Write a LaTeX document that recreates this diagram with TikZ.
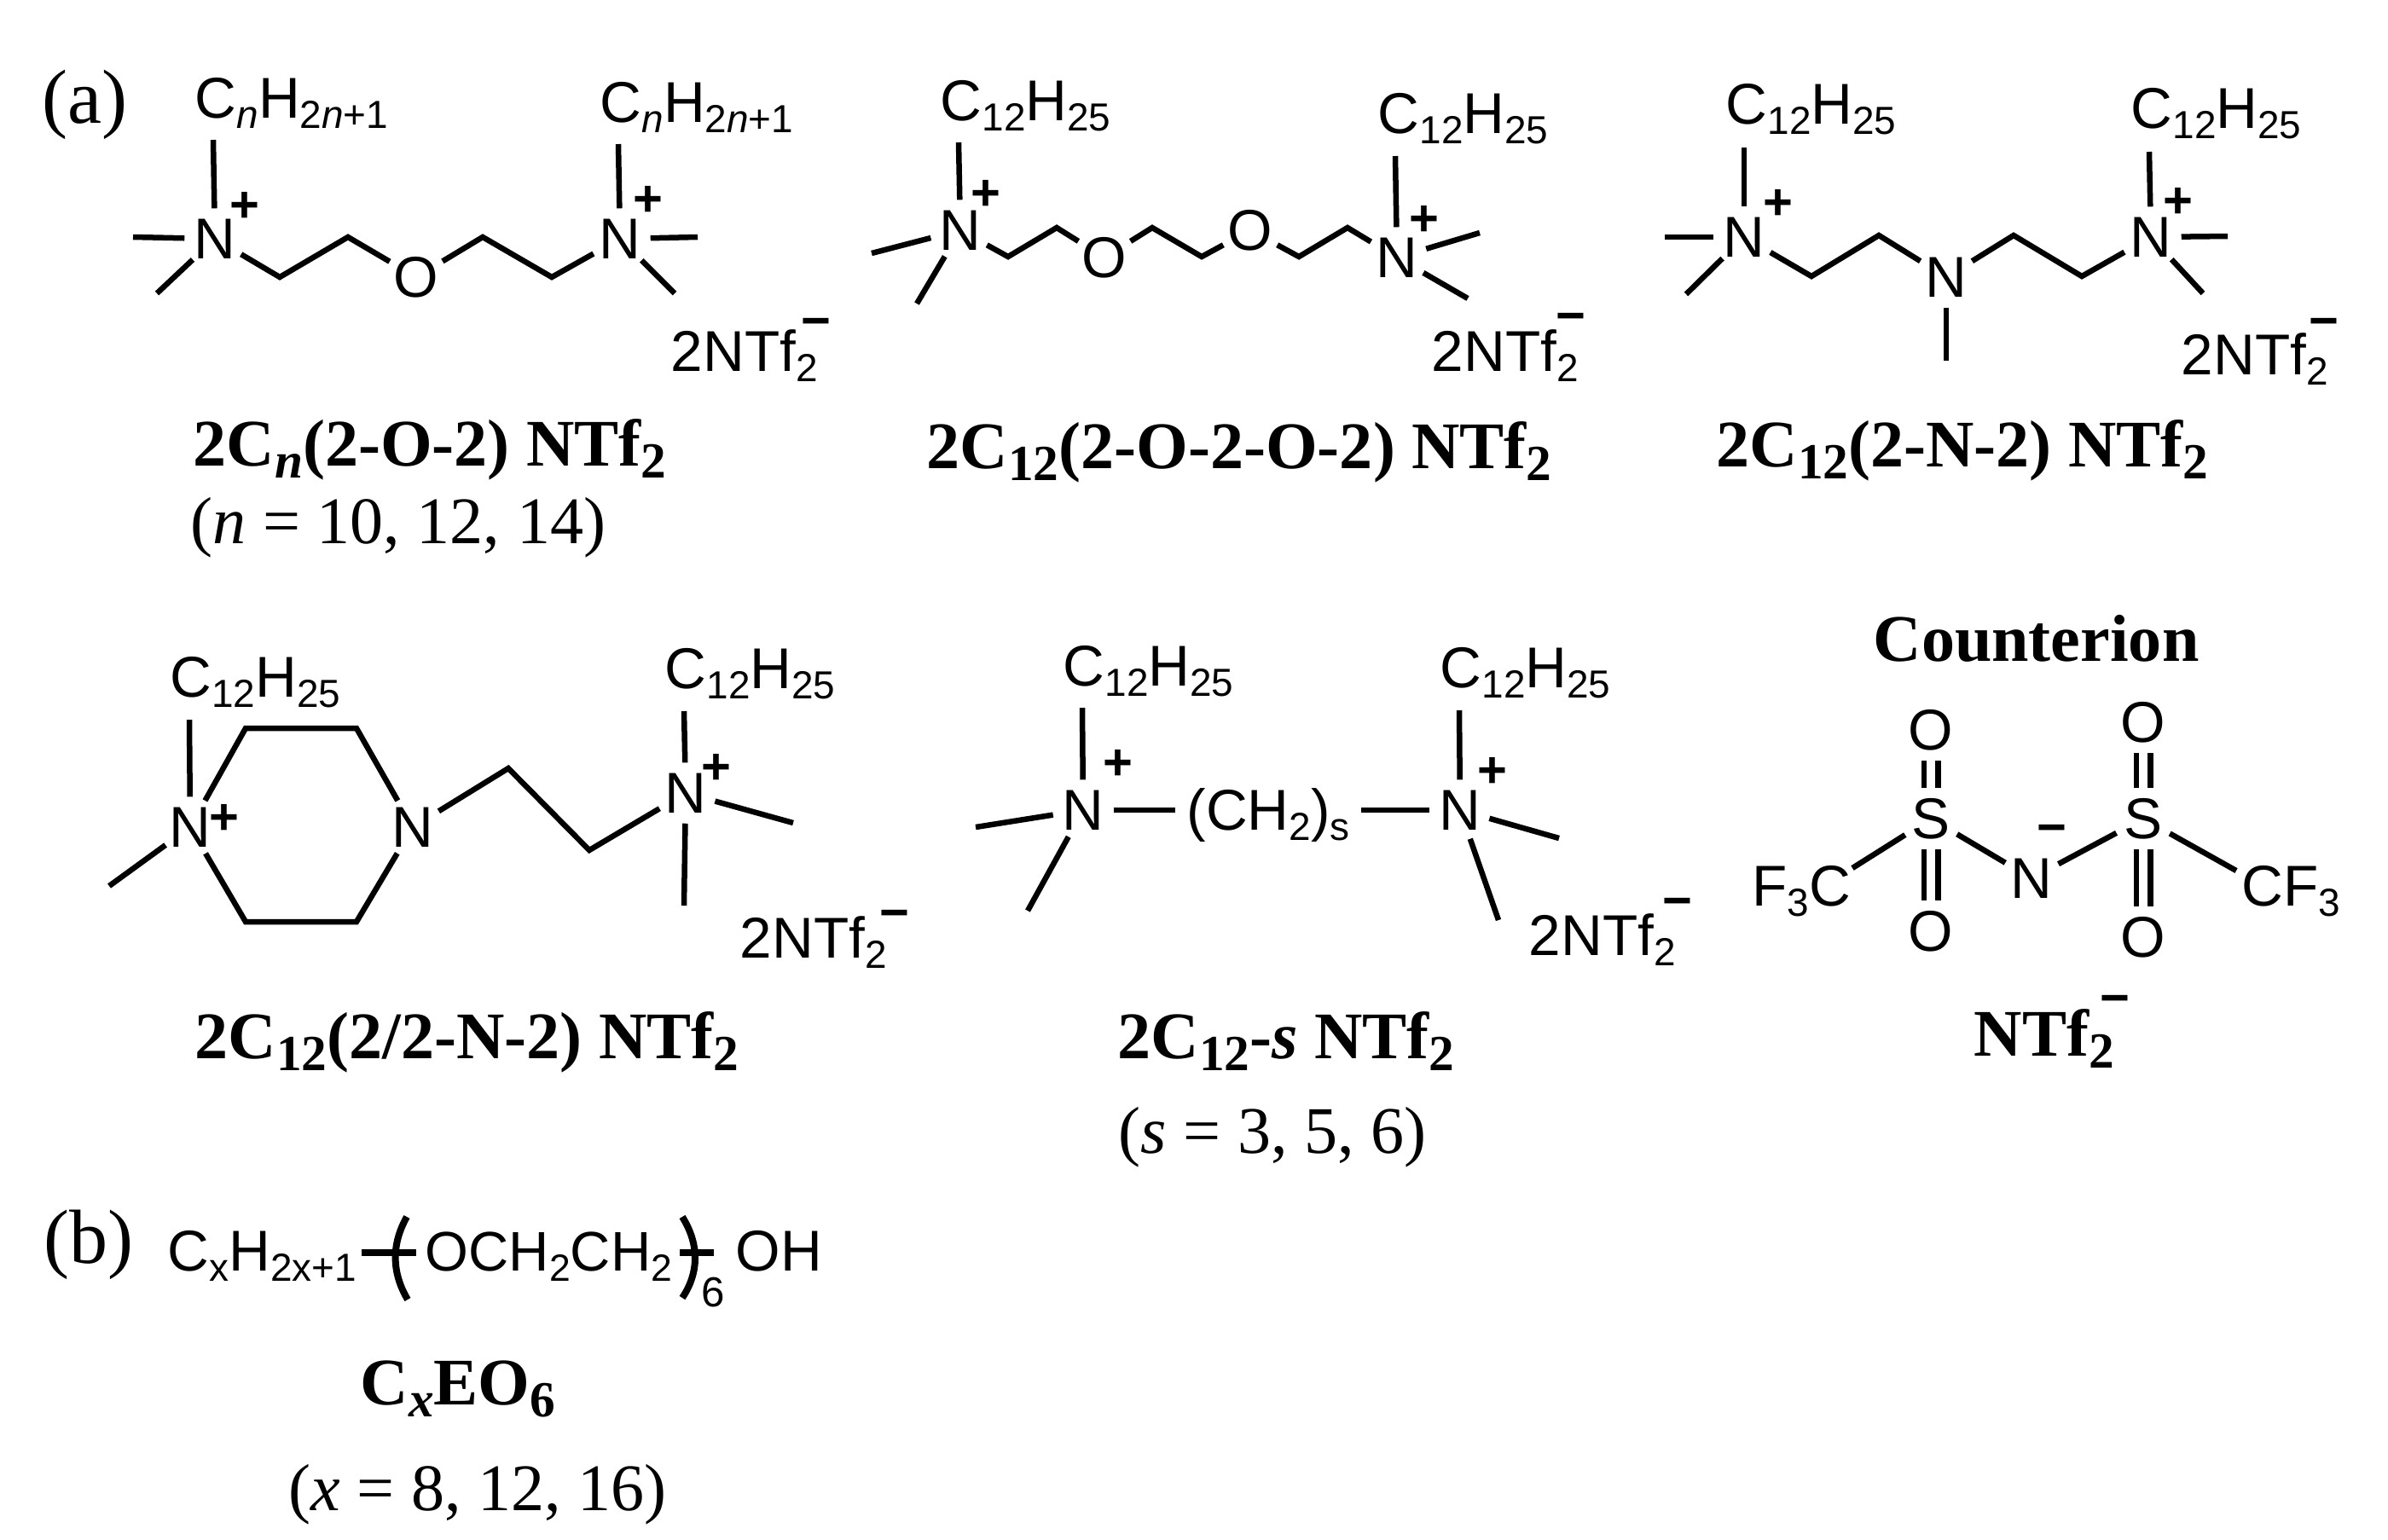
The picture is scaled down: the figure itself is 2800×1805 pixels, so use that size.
\documentclass[tikz,border=0pt]{standalone}
\usepackage{fontspec}
\setmainfont{Liberation Serif}
\setsansfont{Liberation Sans}
\usetikzlibrary{positioning}
\newcommand{\dn}[1]{\raisebox{-0.19em}{\scalebox{0.68}{#1}}}
\newcommand{\bdn}[1]{\raisebox{-0.19em}{\scalebox{0.76}{#1}}}
\tikzset{
	bond/.style={line width=0.065cm},
	dbond/.style={line width=0.065cm,double,double distance=0.1cm},
	brace/.style={line width=0.08cm},
	atom/.style={circle,inner sep=0pt,minimum size=0.7cm,font=\fontsize{19.2pt}{22pt}\selectfont\sffamily},
	chem/.style={anchor=base west,inner sep=0pt,font=\fontsize{19.2pt}{22pt}\selectfont\sffamily},
	charge/.style={inner sep=0pt,font=\fontsize{17pt}{18pt}\selectfont\sffamily\bfseries},
	cmpd/.style={anchor=base west,inner sep=0pt,font=\fontsize{22.2pt}{25pt}\selectfont\bfseries},
	vals/.style={anchor=base west,inner sep=0pt,font=\fontsize{22.2pt}{25pt}\selectfont},
	panel/.style={anchor=base west,inner sep=0pt,font=\fontsize{25.6pt}{28pt}\selectfont}
}
\begin{document}
\begin{tikzpicture}[x=0.01cm,y=-0.01cm]
			\useasboundingbox (0,0) rectangle (2800,1805);
			
			\node[panel] (pa) at (49,144) {(a)};
			\node[panel] (pb) at (51,1481) {(b)};
			
			\node[chem] (L11) at (228,138) {C\dn{\textit{n}}H\dn{2\textit{n}+1}};
			\node[chem] (L12) at (703,143) {C\dn{\textit{n}}H\dn{2\textit{n}+1}};
			\node[atom] (N11) at (252,280) {N};
			\node[atom] (O11) at (488,325) {O};
			\node[atom] (N12) at (727,280) {N};
			\node[charge] (P11) at (287,243) {+};
			\node[charge] (P12) at (760,236) {+};
			\coordinate (T11) at (250,164);
			\coordinate (T12) at (725,169);
			\coordinate (M11) at (156,278);
			\coordinate (M12) at (184,344);
			\coordinate (M13) at (818,278);
			\coordinate (M14) at (791,344);
			\coordinate (C11) at (328,325);
			\coordinate (C12) at (408,278);
			\coordinate (C13) at (566,278);
			\coordinate (C14) at (647,325);
			\draw[bond] (N11) -- (T11);
			\draw[bond] (N11) -- (M11);
			\draw[bond] (N11) -- (M12);
			\draw[bond] (N12) -- (T12);
			\draw[bond] (N12) -- (M13);
			\draw[bond] (N12) -- (M14);
			\draw[bond] (N11) -- (C11) -- (C12) -- (O11);
			\draw[bond] (O11) -- (C13) -- (C14) -- (N12);
			\node[chem] (A1) at (786,435) {2NTf\dn{2}};
			\node[charge] (Q1) at (957,385) {−};
			\node[cmpd] (G1) at (226,546) {2C\bdn{\textit{n}}(2-O-2) NTf\bdn{2}};
			\node[vals] (R1) at (223,637) {(\textit{n} = 10, 12, 14)};
			
			\node[chem] (L21) at (1102,141) {C\dn{12}H\dn{25}};
			\node[chem] (L22) at (1615,156) {C\dn{12}H\dn{25}};
			\node[atom] (N21) at (1126,270) {N};
			\node[atom] (O21) at (1295,302) {O};
			\node[atom] (O22) at (1466,270) {O};
			\node[atom] (N22) at (1638,302) {N};
			\node[charge] (P21) at (1156,229) {+};
			\node[charge] (P22) at (1670,259) {+};
			\coordinate (T21) at (1124,167);
			\coordinate (T22) at (1636,183);
			\coordinate (M21) at (1022,297);
			\coordinate (M22) at (1075,356);
			\coordinate (M23) at (1735,273);
			\coordinate (M24) at (1721,350);
			\coordinate (C21) at (1182,301);
			\coordinate (C22) at (1239,267);
			\coordinate (C23) at (1351,267);
			\coordinate (C24) at (1409,301);
			\coordinate (C25) at (1523,301);
			\coordinate (C26) at (1580,267);
			\draw[bond] (N21) -- (T21);
			\draw[bond] (N21) -- (M21);
			\draw[bond] (N21) -- (M22);
			\draw[bond] (N22) -- (T22);
			\draw[bond] (N22) -- (M23);
			\draw[bond] (N22) -- (M24);
			\draw[bond] (N21) -- (C21) -- (C22) -- (O21);
			\draw[bond] (O21) -- (C23) -- (C24) -- (O22);
			\draw[bond] (O22) -- (C25) -- (C26) -- (N22);
			\node[chem] (A2) at (1678,435) {2NTf\dn{2}};
			\node[charge] (Q2) at (1842,379) {−};
			\node[cmpd] (G2) at (1086,549) {2C\bdn{12}(2-O-2-O-2) NTf\bdn{2}};
			
			\node[chem] (L31) at (2023,145) {C\dn{12}H\dn{25}};
			\node[chem] (L32) at (2498,150) {C\dn{12}H\dn{25}};
			\node[atom] (N31) at (2045,278) {N};
			\node[atom] (N33) at (2282,325) {N};
			\node[atom] (N32) at (2522,278) {N};
			\node[charge] (P31) at (2085,240) {+};
			\node[charge] (P32) at (2554,238) {+};
			\coordinate (T31) at (2045,173);
			\coordinate (T32) at (2520,178);
			\coordinate (T33) at (2282,423);
			\coordinate (M31) at (1952,278);
			\coordinate (M32) at (1977,345);
			\coordinate (M33) at (2612,277);
			\coordinate (M34) at (2583,344);
			\coordinate (C31) at (2124,324);
			\coordinate (C32) at (2203,276);
			\coordinate (C33) at (2361,276);
			\coordinate (C34) at (2441,324);
			\draw[bond] (N31) -- (T31);
			\draw[bond] (N31) -- (M31);
			\draw[bond] (N31) -- (M32);
			\draw[bond] (N32) -- (T32);
			\draw[bond] (N32) -- (M33);
			\draw[bond] (N32) -- (M34);
			\draw[bond] (N33) -- (T33);
			\draw[bond] (N31) -- (C31) -- (C32) -- (N33);
			\draw[bond] (N33) -- (C33) -- (C34) -- (N32);
			\node[chem] (A3) at (2557,439) {2NTf\dn{2}};
			\node[charge] (Q3) at (2725,385) {−};
			\node[cmpd] (G3) at (2012,547) {2C\bdn{12}(2-N-2) NTf\bdn{2}};
			
			\node[chem] (L41) at (199,817) {C\dn{12}H\dn{25}};
			\node[chem] (L42) at (779,807) {C\dn{12}H\dn{25}};
			\node[atom] (N41) at (223,970) {N};
			\node[atom] (N43) at (484,970) {N};
			\node[atom] (N42) at (804,930) {N};
			\node[charge] (P41) at (263,961) {+};
			\node[charge] (P42) at (840,902) {+};
			\coordinate (T41) at (222,844);
			\coordinate (T42) at (802,834);
			\coordinate (M41) at (128,1039);
			\coordinate (M42) at (930,965);
			\coordinate (M43) at (802,1062);
			\coordinate (R41) at (288,854);
			\coordinate (R42) at (418,854);
			\coordinate (R43) at (418,1081);
			\coordinate (R44) at (288,1081);
			\coordinate (C41) at (596,901);
			\coordinate (C42) at (691,997);
			\draw[bond] (N41) -- (T41);
			\draw[bond] (N41) -- (M41);
			\draw[bond] (N42) -- (T42);
			\draw[bond] (N42) -- (M42);
			\draw[bond] (N42) -- (M43);
			\draw[bond] (N41) -- (R41) -- (R42) -- (N43);
			\draw[bond] (N43) -- (R43) -- (R44) -- (N41);
			\draw[bond] (N43) -- (C41) -- (C42) -- (N42);
			\node[chem] (A4) at (867,1123) {2NTf\dn{2}};
			\node[charge] (Q4) at (1049,1079) {−};
			\node[cmpd] (G4) at (228,1241) {2C\bdn{12}(2/2-N-2) NTf\bdn{2}};
			
			\node[chem] (L51) at (1246,804) {C\dn{12}H\dn{25}};
			\node[chem] (L52) at (1688,806) {C\dn{12}H\dn{25}};
			\node[atom] (N51) at (1270,950) {N};
			\node[atom] (N52) at (1712,950) {N};
			\node[chem,inner sep=0.13cm] (S5) at (1378,973) {(CH\dn{2})\dn{s}};
			\node[charge] (P51) at (1311,897) {+};
			\node[charge] (P52) at (1750,906) {+};
			\coordinate (T51) at (1269,830);
			\coordinate (T52) at (1711,833);
			\coordinate (M51) at (1144,970);
			\coordinate (M52) at (1205,1068);
			\coordinate (M53) at (1828,983);
			\coordinate (M54) at (1757,1079);
			\draw[bond] (N51) -- (T51);
			\draw[bond] (N51) -- (M51);
			\draw[bond] (N51) -- (M52);
			\draw[bond] (N52) -- (T52);
			\draw[bond] (N52) -- (M53);
			\draw[bond] (N52) -- (M54);
			\draw[bond] (N51) -- (S5.west |- N51);
			\draw[bond] (S5.east |- N52) -- (N52);
			\node[chem] (A5) at (1792,1120) {2NTf\dn{2}};
			\node[charge] (Q5) at (1967,1065) {−};
			\node[cmpd] (G5) at (1310,1241) {2C\bdn{12}-\textit{s} NTf\bdn{2}};
			\node[vals] (R5) at (1311,1352) {(\textit{s} = 3, 5, 6)};
			
			\node[cmpd] (G6) at (2196,775) {Counterion};
			\node[atom] (S61) at (2264,960) {S};
			\node[atom] (S62) at (2513,960) {S};
			\node[atom] (N6) at (2382,1030) {N};
			\node[atom] (O61) at (2264,856) {O};
			\node[atom] (O62) at (2264,1092) {O};
			\node[atom] (O63) at (2513,847) {O};
			\node[atom] (O64) at (2513,1099) {O};
			\node[chem] (F61) at (2054,1062) {F\dn{3}C};
			\node[chem] (F62) at (2628,1062) {CF\dn{3}};
			\node[charge] (Q6) at (2406,979) {−};
			\coordinate (B61) at (2172,1018);
			\coordinate (B62) at (2622,1021);
			\draw[dbond] (S61) -- (O61);
			\draw[dbond] (S61) -- (O62);
			\draw[dbond] (S62) -- (O63);
			\draw[dbond] (S62) -- (O64);
			\draw[bond] (S61) -- (B61);
			\draw[bond] (S62) -- (B62);
			\draw[bond] (S61) -- (N6);
			\draw[bond] (S62) -- (N6);
			\node[cmpd] (G7) at (2314,1238) {NTf\bdn{2}};
			\node[charge] (Q7) at (2480,1179) {−};
			
			\node[chem] (L7) at (196,1490) {C\dn{x}H\dn{2x+1}};
			\node[chem,font=\fontsize{18.6pt}{22pt}\selectfont\sffamily] (E7) at (498,1490) {OCH\dn{2}CH\dn{2}};
			\node[chem] (H7) at (862,1490) {OH};
			\node[chem,font=\fontsize{14pt}{15pt}\selectfont\sffamily] (X7) at (822,1532) {6};
			\coordinate (B71) at (424,1469);
			\coordinate (B72) at (488,1469);
			\coordinate (B73) at (797,1469);
			\coordinate (B74) at (837,1469);
			\coordinate (U71) at (477,1427);
			\coordinate (U72) at (478,1524);
			\coordinate (U73) at (800,1427);
			\coordinate (U74) at (800,1522);
			\draw[brace] (B71) -- (B72);
			\draw[brace] (B73) -- (B74);
			\draw[brace] (U71) .. controls (459,1459) and (459,1492) .. (U72);
			\draw[brace] (U73) .. controls (820,1459) and (820,1492) .. (U74);
			\node[cmpd] (G8) at (422,1647) {C\bdn{\textit{x}}EO\bdn{6}};
			\node[vals] (R8) at (338,1771) {(\textit{x} = 8, 12, 16)};
			
		\end{tikzpicture}
\end{document}
